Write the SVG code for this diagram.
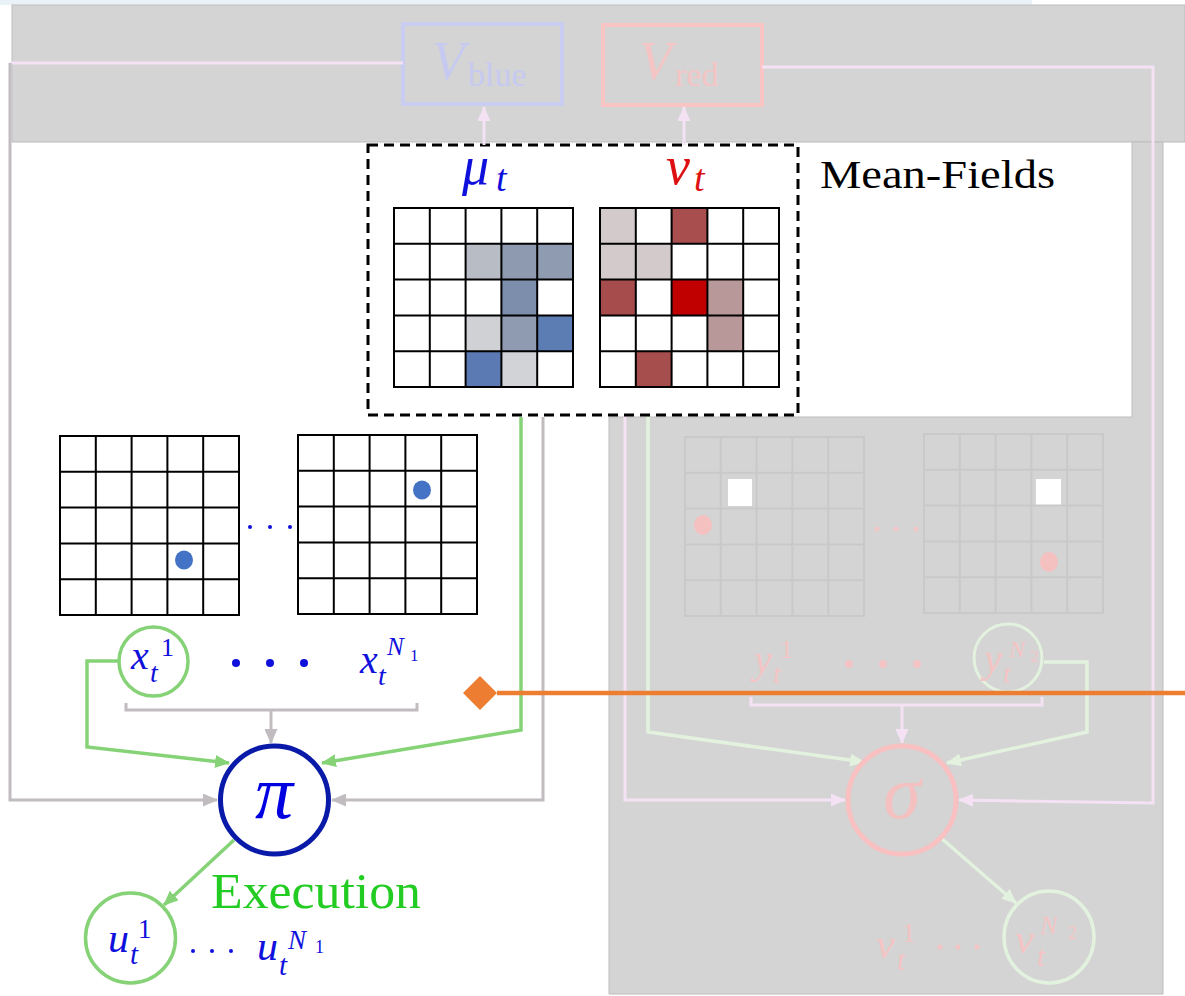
<svg xmlns="http://www.w3.org/2000/svg" xmlns:xlink="http://www.w3.org/1999/xlink" width="1185" height="996" viewBox="0 0 1185 996">
<style>
.m{font-family:"Liberation Serif","DejaVu Serif",serif;font-style:italic}
.r{font-family:"Liberation Serif","DejaVu Serif",serif}
.gk{stroke:#000;stroke-width:2;fill:none}
.gf{stroke:#c9c9c9;stroke-width:2;fill:none}
.cg{fill:none;stroke:#c0bcc0;stroke-width:3}
.cgr{fill:none;stroke:#86d276;stroke-width:3.5}
.cp{fill:none;stroke:#f4e2f4;stroke-width:3}
.clg{fill:none;stroke:#e2f2de;stroke-width:3.5}
</style>
<defs>
<g id="g5"><path d="M0,0H179V179H0Z M35.8,0V179 M71.6,0V179 M107.4,0V179 M143.2,0V179 M0,35.8H179 M0,71.6H179 M0,107.4H179 M0,143.2H179"/></g>
<marker id="ag" markerUnits="userSpaceOnUse" markerWidth="15" markerHeight="13" refX="14" refY="6.5" orient="auto"><path d="M0,0L15,6.5L0,13Z" fill="#c0bcc0"/></marker>
<marker id="agr" markerUnits="userSpaceOnUse" markerWidth="15" markerHeight="13" refX="14" refY="6.5" orient="auto"><path d="M0,0L15,6.5L0,13Z" fill="#86d276"/></marker>
<marker id="ap" markerUnits="userSpaceOnUse" markerWidth="15" markerHeight="13" refX="14" refY="6.5" orient="auto"><path d="M0,0L15,6.5L0,13Z" fill="#f4e2f4"/></marker>
<marker id="alg" markerUnits="userSpaceOnUse" markerWidth="15" markerHeight="13" refX="14" refY="6.5" orient="auto"><path d="M0,0L15,6.5L0,13Z" fill="#e2f2de"/></marker>
</defs>
<rect x="0" y="0" width="1185" height="996" fill="#fff"/>
<rect x="0" y="0" width="1032" height="5" fill="#e8f2f7"/>
<g id="panels">
<rect x="12" y="5" width="1173" height="137" fill="#d4d4d4" stroke="#bdbdbd" stroke-width="1"/>
<path d="M1132,142H1163V994H609V417H1132Z" fill="#d4d4d4" stroke="#bdbdbd" stroke-width="1"/>
</g>
<g id="Vblue">
<rect x="403" y="24" width="159" height="80" fill="none" stroke="#c9cdf1" stroke-width="4"/>
<text x="432" y="79" class="m" font-size="54" fill="#c6caf0">V</text>
<text x="468" y="86" class="r" font-size="34" fill="#c6caf0">blue</text>
</g>
<g id="Vred">
<rect x="603" y="25" width="159" height="80" fill="none" stroke="#f8c4c4" stroke-width="4"/>
<text x="639" y="79" class="m" font-size="54" fill="#f5c4c4">V</text>
<text x="675" y="86" class="r" font-size="34" fill="#f5c4c4">red</text>
</g>
<g id="meanfields">
<rect x="368" y="145" width="430" height="270" fill="#fff" stroke="#000" stroke-width="3" stroke-dasharray="10,6"/>
<text x="462" y="184" class="m" font-size="54" fill="#1010dd">μ</text>
<text x="496" y="191" class="m" font-size="38" fill="#1010dd">t</text>
<text x="666" y="184" class="m" font-size="54" fill="#dd1111">ν</text>
<text x="694" y="191" class="m" font-size="38" fill="#dd1111">t</text>
<g id="mu">
<rect x="465.6" y="243.8" width="35.8" height="35.8" fill="#b8bcc5"/>
<rect x="501.4" y="243.8" width="35.8" height="35.8" fill="#8d9ab0"/>
<rect x="537.2" y="243.8" width="35.8" height="35.8" fill="#8e9bb1"/>
<rect x="501.4" y="279.6" width="35.8" height="35.8" fill="#7d8eac"/>
<rect x="465.6" y="315.4" width="35.8" height="35.8" fill="#cfd1d5"/>
<rect x="501.4" y="315.4" width="35.8" height="35.8" fill="#8f9bb1"/>
<rect x="537.2" y="315.4" width="35.8" height="35.8" fill="#5c7cb4"/>
<rect x="465.6" y="351.2" width="35.8" height="35.8" fill="#5b7ab3"/>
<rect x="501.4" y="351.2" width="35.8" height="35.8" fill="#d1d3d7"/>
<use xlink:href="#g5" x="394" y="208" class="gk"/>
</g>
<g id="nu">
<rect x="600" y="208" width="35.8" height="35.8" fill="#d3cbcb"/>
<rect x="671.6" y="208" width="35.8" height="35.8" fill="#a84e4e"/>
<rect x="600" y="243.8" width="35.8" height="35.8" fill="#d3cbcb"/>
<rect x="635.8" y="243.8" width="35.8" height="35.8" fill="#d3cbcb"/>
<rect x="600" y="279.6" width="35.8" height="35.8" fill="#a64c4c"/>
<rect x="671.6" y="279.6" width="35.8" height="35.8" fill="#c00000"/>
<rect x="707.4" y="279.6" width="35.8" height="35.8" fill="#b89898"/>
<rect x="707.4" y="315.4" width="35.8" height="35.8" fill="#b89898"/>
<rect x="635.8" y="351.2" width="35.8" height="35.8" fill="#a64d4d"/>
<use xlink:href="#g5" x="600" y="208" class="gk"/>
</g>
<text x="820" y="188" class="r" font-size="41" fill="#000" textLength="235" lengthAdjust="spacingAndGlyphs">Mean-Fields</text>
</g>
<g id="blueGrids">
<use xlink:href="#g5" x="60" y="436" class="gk"/>
<use xlink:href="#g5" x="298" y="435" class="gk"/>
<ellipse cx="184" cy="560" rx="9" ry="9.5" fill="#4472c4"/>
<ellipse cx="422" cy="490" rx="9" ry="9.5" fill="#4472c4"/>
<circle cx="250" cy="527" r="2" fill="#1010dd"/>
<circle cx="270" cy="527" r="2" fill="#1010dd"/>
<circle cx="290" cy="527" r="2" fill="#1010dd"/>
</g>
<g id="redGrids">
<rect x="728" y="479" width="24" height="27" fill="#fff"/>
<rect x="1036" y="479" width="25" height="26" fill="#fff"/>
<use xlink:href="#g5" x="685" y="437" class="gf"/>
<use xlink:href="#g5" x="924" y="434" class="gf"/>
<ellipse cx="703" cy="525" rx="9" ry="10" fill="#f5c0c0"/>
<ellipse cx="1049" cy="562" rx="9" ry="10" fill="#f5c0c0"/>
<circle cx="877" cy="529" r="2.5" fill="#f0c6c6"/>
<circle cx="896" cy="529" r="2.5" fill="#f0c6c6"/>
<circle cx="916" cy="529" r="2.5" fill="#f0c6c6"/>
</g>
<g id="connectors">
<path class="cp" d="M484,145V107" marker-end="url(#ap)"/>
<path class="cp" d="M684,145V107" marker-end="url(#ap)"/>
<path class="cp" d="M403,63H10"/>
<path class="cg" d="M10,63V800H217" marker-end="url(#ag)"/>
<path class="cg" d="M543,417V800H332" marker-end="url(#ag)"/>
<path class="cgr" d="M521,417V730L322,763" marker-end="url(#agr)"/>
<path class="cgr" d="M119,661H87V747L229,763" marker-end="url(#agr)"/>
<path class="cg" d="M126,703V710H417V703"/>
<path class="cg" d="M271,710V743" marker-end="url(#ag)"/>
<path class="cgr" d="M234,840L164,905" marker-end="url(#agr)"/>
<path class="cp" d="M625,417V800H845" marker-end="url(#ap)"/>
<path class="clg" d="M648,417V732L864,762" marker-end="url(#alg)"/>
<path class="cp" d="M751,697V705H1042V697"/>
<path class="cp" d="M902,705V743" marker-end="url(#ap)"/>
<path class="clg" d="M1044,662H1087V732L947,763" marker-end="url(#alg)"/>
<path class="cp" d="M762,67H1153V803L959,800" marker-end="url(#ap)"/>
<path class="clg" d="M941,838L1016,903" marker-end="url(#alg)"/>
</g>
<g id="x1">
<circle cx="153.5" cy="661.5" r="34.5" fill="none" stroke="#86d276" stroke-width="3.5"/>
<text x="131" y="669" class="m" font-size="40" fill="#1010dd">x</text>
<text x="150" y="682" class="m" font-size="28" fill="#1010dd">t</text>
<text x="161" y="656" class="r" font-size="26" fill="#1010dd">1</text>
</g>
<g id="xdots">
<circle cx="236" cy="663" r="4" fill="#1010dd"/>
<circle cx="270" cy="663" r="4" fill="#1010dd"/>
<circle cx="304" cy="663" r="4" fill="#1010dd"/>
</g>
<g id="xN1">
<text x="360" y="673" class="m" font-size="40" fill="#1010dd">x</text>
<text x="378" y="685" class="m" font-size="28" fill="#1010dd">t</text>
<text x="387" y="655" class="m" font-size="25" fill="#1010dd">N</text>
<text x="410" y="661" class="r" font-size="17" fill="#1010dd">1</text>
</g>
<g id="pi">
<circle cx="274.5" cy="800" r="54" fill="none" stroke="#0a1aa8" stroke-width="5"/>
<text x="274" y="818" class="m" font-size="76" fill="#0000e0" text-anchor="middle">π</text>
</g>
<g id="u1">
<ellipse cx="130.5" cy="938" rx="45" ry="45" fill="none" stroke="#86d276" stroke-width="3.5"/>
<text x="108" y="952" class="m" font-size="42" fill="#1010dd">u</text>
<text x="130" y="964" class="m" font-size="29" fill="#1010dd">t</text>
<text x="138" y="938" class="r" font-size="27" fill="#1010dd">1</text>
</g>
<g id="udots">
<circle cx="193" cy="951" r="2" fill="#1010dd"/>
<circle cx="212" cy="951" r="2" fill="#1010dd"/>
<circle cx="231" cy="951" r="2" fill="#1010dd"/>
</g>
<g id="uN1">
<text x="257" y="960" class="m" font-size="42" fill="#1010dd">u</text>
<text x="279" y="975" class="m" font-size="29" fill="#1010dd">t</text>
<text x="288" y="949" class="m" font-size="27" fill="#1010dd">N</text>
<text x="315" y="953" class="r" font-size="18" fill="#1010dd">1</text>
</g>
<text id="execution" x="211" y="908" class="r" font-size="50" fill="#22cc22" textLength="210" lengthAdjust="spacingAndGlyphs">Execution</text>
<g id="y1">
<text x="754" y="673" class="m" font-size="40" fill="#f4c4c4">y</text>
<text x="773" y="683" class="m" font-size="28" fill="#f4c4c4">t</text>
<text x="780" y="658" class="r" font-size="26" fill="#f4c4c4">1</text>
</g>
<g id="ydots">
<circle cx="849" cy="664" r="4" fill="#f4c4c4"/>
<circle cx="883" cy="664" r="4" fill="#f4c4c4"/>
<circle cx="917" cy="664" r="4" fill="#f4c4c4"/>
</g>
<g id="yN2">
<circle cx="1008" cy="658" r="34" fill="none" stroke="#e2f2de" stroke-width="3"/>
<text x="984" y="672" class="m" font-size="40" fill="#f4c4c4">y</text>
<text x="1003" y="683" class="m" font-size="28" fill="#f4c4c4">t</text>
<text x="1009" y="657" class="m" font-size="24" fill="#f4c4c4">N</text>
<text x="1030" y="662" class="r" font-size="17" fill="#f4c4c4">2</text>
</g>
<g id="sigma">
<circle cx="902" cy="800" r="54" fill="none" stroke="#f8c0c0" stroke-width="5"/>
<text x="902" y="818" class="m" font-size="76" fill="#f4c0c0" text-anchor="middle">σ</text>
</g>
<g id="v1">
<text x="876" y="958" class="m" font-size="42" fill="#f4c4c4">v</text>
<text x="897" y="970" class="m" font-size="29" fill="#f4c4c4">t</text>
<text x="902" y="942" class="r" font-size="27" fill="#f4c4c4">1</text>
<circle cx="940" cy="947" r="2.5" fill="#f4c4c4"/>
<circle cx="958" cy="947" r="2.5" fill="#f4c4c4"/>
<circle cx="977" cy="947" r="2.5" fill="#f4c4c4"/>
</g>
<g id="vN2">
<ellipse cx="1049" cy="937" rx="45" ry="46" fill="none" stroke="#e2f2de" stroke-width="3.5"/>
<text x="1015" y="953" class="m" font-size="42" fill="#f4c4c4">v</text>
<text x="1037" y="966" class="m" font-size="29" fill="#f4c4c4">t</text>
<text x="1040" y="934" class="m" font-size="26" fill="#f4c4c4">N</text>
<text x="1068" y="939" class="r" font-size="18" fill="#f4c4c4">2</text>
</g>
<g id="orange">
<path d="M497,693H1185" fill="none" stroke="#ed7d31" stroke-width="4.5"/>
<polygon points="463,693 480,676 497,693 480,710" fill="#ed7d31"/>
</g>
</svg>
